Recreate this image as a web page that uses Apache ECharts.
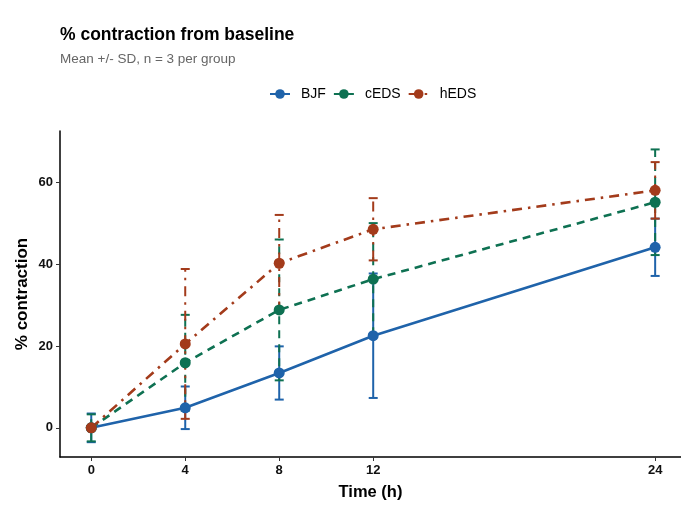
<!DOCTYPE html>
<html>
<head>
<meta charset="utf-8">
<script src="https://cdn.jsdelivr.net/npm/echarts@6/dist/echarts.min.js"></script>
<style>html,body{margin:0;padding:0;background:#fff}#c{width:681px;height:506px}</style>
</head>
<body>
<div id="c"></div>
<script>
var times = [0, 4, 8, 12, 24];
var xTicks = [0, 4, 8, 12, 24];
var yTicks = [0, 20, 40, 60];
var groups = ['BJF', 'cEDS', 'hEDS'];
var bjfMean = [0, 4.9, 13.4, 22.5, 44.1];
var bjfSD   = [3.5, 5.2, 6.5, 15.2, 7.0];
var cedsMean = [0, 15.9, 28.8, 36.3, 55.1];
var cedsSD   = [3.3, 11.7, 17.2, 13.7, 12.9];
var hedsMean = [0, 20.5, 40.2, 48.5, 58.0];
var hedsSD   = [0, 18.3, 11.8, 7.6, 6.9];

var colors = ['#1f63aa', '#0e7152', '#a33b1b'];
var dashes = ['solid', [8, 6], [10, 6, 2.5, 6]];
var means = [bjfMean, cedsMean, hedsMean];
var sds = [bjfSD, cedsSD, hedsSD];
var FONT = 'Liberation Sans, Arial, sans-serif';

var series = [];
groups.forEach(function (g, i) {
  series.push({
    type: 'line',
    name: g,
    z: 3,
    data: times.map(function (t, k) { return [t, means[i][k]]; }),
    symbol: 'circle',
    symbolSize: 11,
    showSymbol: true,
    itemStyle: { color: colors[i] },
    lineStyle: { color: colors[i], width: 2.6, type: dashes[i] },
    emphasis: { disabled: true }
  });
});
groups.forEach(function (g, i) {
  var errData = times.map(function (t, k) {
    return [t, means[i][k] - sds[i][k], means[i][k] + sds[i][k]];
  });
  series.push({
    type: 'custom',
    name: g + ' SD',
    z: 1,
    silent: true,
    itemStyle: { color: colors[i] },
    data: errData,
    encode: { x: 0, y: [1, 2] },
    renderItem: function (params, api) {
      var x = api.value(0);
      var lo = api.coord([x, api.value(1)]);
      var hi = api.coord([x, api.value(2)]);
      var w = 4.5;
      var st = { stroke: colors[i], lineWidth: 2, fill: null, lineDash: dashes[i] === 'solid' ? null : dashes[i] };
      return {
        type: 'group',
        children: [
          { type: 'line', shape: { x1: lo[0], y1: lo[1], x2: hi[0], y2: hi[1] }, style: st },
          { type: 'line', shape: { x1: lo[0] - w, y1: lo[1], x2: lo[0] + w, y2: lo[1] }, style: { stroke: colors[i], lineWidth: 2 } },
          { type: 'line', shape: { x1: hi[0] - w, y1: hi[1], x2: hi[0] + w, y2: hi[1] }, style: { stroke: colors[i], lineWidth: 2 } }
        ]
      };
    }
  });
});

var chart = echarts.init(document.getElementById('c'), null, { renderer: 'canvas' });
chart.setOption({
  animation: false,
  backgroundColor: '#fff',
  title: {
    text: '% contraction from baseline',
    subtext: 'Mean +/- SD, n = 3 per group',
    left: 55, top: 21,
    itemGap: 8,
    textStyle: { fontFamily: FONT, fontSize: 17.5, fontWeight: 'bold', color: '#000' },
    subtextStyle: { fontFamily: FONT, fontSize: 13.5, color: '#666' }
  },
  legend: {
    data: groups,
    top: 82,
    left: 264,
    itemWidth: 20,
    itemHeight: 12,
    itemGap: 7,
    textStyle: { fontFamily: FONT, fontSize: 14, color: '#000', padding: [0, 0, 0, 6] }
  },
  grid: { left: 60, right: 0, top: 131, bottom: 48.5, containLabel: false },
  xAxis: {
    type: 'value',
    min: -1.33, max: 25.1,
    name: 'Time (h)',
    nameLocation: 'middle',
    nameGap: 27,
    nameTextStyle: { fontFamily: FONT, fontSize: 16.5, fontWeight: 'bold', color: '#000' },
    axisLine: { show: true, onZero: false, lineStyle: { color: '#000', width: 1.5 } },
    axisTick: { show: true, customValues: xTicks, length: 4, lineStyle: { color: '#333' } },
    axisLabel: { customValues: xTicks, fontFamily: FONT, fontSize: 13, fontWeight: 'bold', color: '#111', margin: 7 },
    splitLine: { show: false }
  },
  yAxis: {
    type: 'value',
    min: -7.12, max: 72.5,
    name: '% contraction',
    nameLocation: 'middle',
    nameGap: 29,
    nameMoveOverlap: false,
    nameTextStyle: { fontFamily: FONT, fontSize: 17, fontWeight: 'bold', color: '#000' },
    axisLine: { show: true, onZero: false, lineStyle: { color: '#000', width: 1.5 } },
    axisTick: { show: true, customValues: yTicks, length: 4, lineStyle: { color: '#333' } },
    axisLabel: { customValues: yTicks, fontFamily: FONT, fontSize: 13, fontWeight: 'bold', color: '#111', margin: 7 },
    splitLine: { show: false }
  },
  series: series
});
</script>
</body>
</html>
